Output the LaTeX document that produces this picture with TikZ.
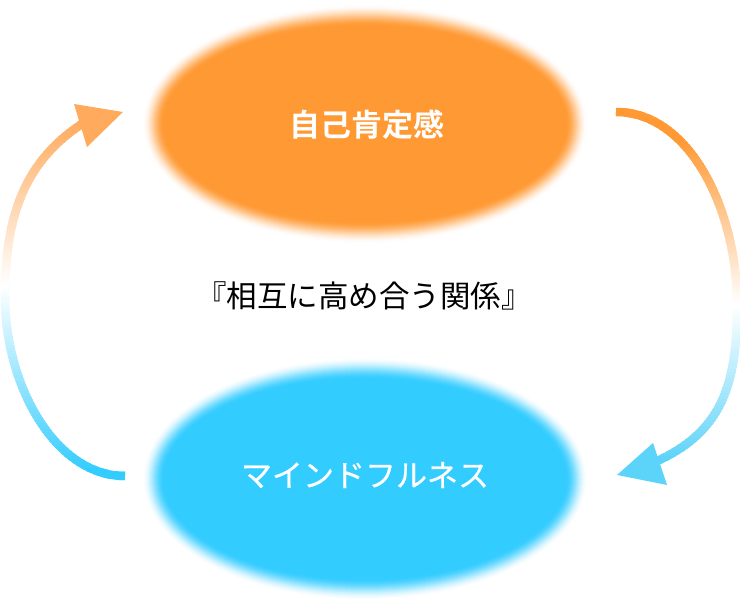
\documentclass[tikz,border=0pt]{standalone}
\usepackage{fontspec}
\newfontfamily\jp{Noto Sans CJK JP}
\newfontfamily\jpm[FakeBold=0.6]{Noto Sans CJK JP}
\newfontfamily\jpb{Noto Sans CJK JP Bold}
\definecolor{aor}{HTML}{FF9933}
\definecolor{ablue}{HTML}{33CCFF}
\definecolor{aorL}{HTML}{FFAA5C}
\definecolor{ablueL}{HTML}{5CD3F8}
% blurred ellipse: cx, cy, rx, ry, colour
\newcommand\blurell[5]{%
  \foreach \k in {0,...,22}{%
    \pgfmathsetmacro\tt{\k/22}%
    \pgfmathsetmacro\pp{100*\tt*\tt*(3-2*\tt)}%
    \pgfmathsetmacro\rx{#3+11-\k}%
    \pgfmathsetmacro\ry{#4+11-\k}%
    \fill[#5!\pp!white] (#1,#2) ellipse [x radius=\rx pt, y radius=\ry pt];
  }}
% gradient stroke: path, ytop, ywhite, ybot, topcolour, botcolour, xmin, xmax
\newcommand\gradpath[8]{%
  \foreach \yy in {94,97,...,496}{%
    \pgfmathtruncatemacro\po{max(0,min(100,100*((#3-\yy)/(#3-#2))))}%
    \pgfmathtruncatemacro\pb{max(0,min(100,100*((\yy-#3)/(#4-#3))))}%
    \ifnum\po>0 \def\col{#5!\po!white}\else\def\col{#6!\pb!white}\fi
    \begin{scope}
      \clip (#7,\yy) rectangle (#8,\yy+3.6);
      \draw[line width=8.5pt, color=\col] #1;
    \end{scope}
  }}
\tikzset{
  bubbletext/.style={text=white, inner sep=0pt},
  headL/.style={fill=aorL, draw=none},
  headR/.style={fill=ablueL, draw=none}
}
\begin{document}
\begin{tikzpicture}[x=1pt, y=-1pt]
\useasboundingbox[fill=white] (0,0) rectangle (740,601);
% bubbles
\blurell{365}{124}{212}{109}{aor}
\blurell{365}{479}{212}{111}{ablue}
\node[bubbletext, font=\jpb\fontsize{31}{36}\selectfont] (self) at (367,125) {自己肯定感};
\node[bubbletext, font=\jpm\fontsize{31}{36}\selectfont] (mind) at (365,475) {マインドフルネス};
\node[font=\jp\fontsize{30.5}{36}\selectfont, text=black] (mid) at (364,296) {『相互に高め合う関係』};
% left arrow (mindfulness -> self)
\coordinate (Ls) at (125,476);
\coordinate (Lm) at (5,297);
\coordinate (Le) at (85,122);
\coordinate (Lt) at (123,112);
\gradpath{(Ls) .. controls (55,476) and (5,385) .. (Lm) .. controls (5,215) and (25,160) .. (Le)}{120}{285}{470}{aorL}{ablue}{-5}{140}
\fill[headL] (74,104) -- (87,147) -- (Lt) -- cycle;
% right arrow (self -> mindfulness)
\coordinate (Rs) at (616,112);
\coordinate (Rm) at (737,300);
\coordinate (Re) at (655,462);
\coordinate (Rt) at (617,475);
\gradpath{(Rs) .. controls (690,112) and (736,210) .. (Rm) .. controls (738,385) and (722,432) .. (Re)}{140}{305}{460}{aor}{ablueL}{600}{745}
\fill[headR] (653,443) -- (667,485) -- (Rt) -- cycle;
\end{tikzpicture}
\end{document}
